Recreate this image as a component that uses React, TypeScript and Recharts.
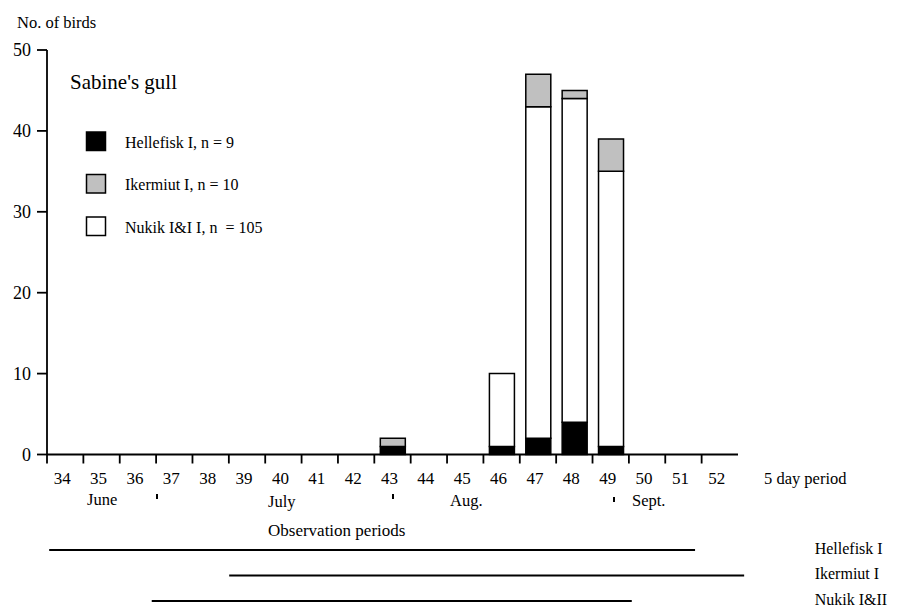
import {
  Bar,
  BarChart,
  Line,
  LineChart,
  XAxis,
  YAxis,
} from 'recharts'

const periods = ['34', '35', '36', '37', '38', '39', '40', '41', '42', '43', '44', '45', '46', '47', '48', '49', '50', '51', '52']
const hellefisk = [0, 0, 0, 0, 0, 0, 0, 0, 0, 1, 0, 0, 1, 2, 4, 1, 0, 0, 0]
const nukik = [0, 0, 0, 0, 0, 0, 0, 0, 0, 0, 0, 0, 9, 41, 40, 34, 0, 0, 0]
const ikermiut = [0, 0, 0, 0, 0, 0, 0, 0, 0, 1, 0, 0, 0, 4, 1, 4, 0, 0, 0]
const yTicks = [0, 10, 20, 30, 40, 50]

const legendItems = [
  { label: 'Hellefisk I, n = 9', fill: '#000000' },
  { label: 'Ikermiut I, n = 10', fill: '#c0c0c0' },
  { label: 'Nukik I&I I, n  = 105', fill: '#ffffff' },
]

// observation periods, in 5 day period units (34 = start of period 34)
const stations = ['Hellefisk I', 'Ikermiut I', 'Nukik I&II']
const obsStart = [34.06, 39.01, 36.88]
const obsEnd = [51.82, 53.17, 50.08]

const FONT = '"Liberation Serif", "Times New Roman", serif'
const PLOT_LEFT = 47
const PLOT_RIGHT = 738
const HALF_BAND = (PLOT_RIGHT - PLOT_LEFT) / periods.length / 2

const data = periods.map((p, i) => ({
  period: p,
  hellefisk: hellefisk[i],
  nukik: nukik[i],
  ikermiut: ikermiut[i],
}))

const rowOf = (i: number) => stations.length - i

function PeriodTick(props: any) {
  const { x, y, payload } = props
  return (
    <g>
      <line x1={x - HALF_BAND} x2={x - HALF_BAND} y1={y} y2={y + 9} stroke='#000' strokeWidth={1.8} />
      <text x={x - 3} y={y + 29} textAnchor='middle' fontSize={17} fontFamily={FONT} fill='#000'>
        {payload.value}
      </text>
    </g>
  )
}

export default function App() {
  return (
    <div
      style={{
        position: 'absolute',
        left: 0,
        top: 0,
        width: 898,
        height: 608,
        overflow: 'hidden',
        background: '#fff',
        fontFamily: FONT,
      }}
    >
      <div style={{ position: 'absolute', left: 0, top: 0 }}>
        <BarChart
          width={898}
          height={608}
          data={data}
          margin={{ top: 50, right: 898 - PLOT_RIGHT, bottom: 123.5, left: 0 }}
          barSize={25}
        >
          <XAxis
            dataKey='period'
            height={30}
            axisLine={{ stroke: '#000', strokeWidth: 1.8 }}
            tickLine={false}
            tickSize={0}
            tickMargin={0}
            interval={0}
            tick={<PeriodTick />}
          />
          <XAxis
            xAxisId='top'
            orientation='top'
            dataKey='period'
            height={0}
            tick={false}
            tickLine={false}
            axisLine={{ stroke: '#000', strokeWidth: 1.8 }}
          />
          <YAxis
            width={PLOT_LEFT}
            domain={[0, 50]}
            ticks={yTicks}
            tickSize={10}
            tickMargin={6}
            axisLine={{ stroke: '#000', strokeWidth: 1.8 }}
            tickLine={{ stroke: '#000', strokeWidth: 1.8 }}
            tick={{ fontSize: 18, fill: '#000', fontFamily: FONT }}
          />
          <YAxis
            yAxisId='r'
            orientation='right'
            width={0}
            domain={[0, 50]}
            tick={false}
            tickLine={false}
            axisLine={{ stroke: '#000', strokeWidth: 1.8 }}
          />
          <Bar dataKey='hellefisk' stackId='a' fill='#000000' stroke='#000' strokeWidth={1.5} isAnimationActive={false} />
          <Bar dataKey='nukik' stackId='a' fill='#ffffff' stroke='#000' strokeWidth={1.5} isAnimationActive={false} />
          <Bar dataKey='ikermiut' stackId='a' fill='#c0c0c0' stroke='#000' strokeWidth={1.5} isAnimationActive={false} />
        </BarChart>
      </div>

      <div style={{ position: 'absolute', left: 0, top: 530 }}>
        <LineChart width={898} height={78} margin={{ top: 7.25, right: 0, bottom: -5.75, left: PLOT_LEFT }}>
          <XAxis type='number' dataKey='x' domain={[34, 55]} hide />
          <YAxis
            orientation='right'
            type='number'
            domain={[0.5, 3.5]}
            ticks={[1, 2, 3]}
            interval={0}
            width={87.3}
            axisLine={false}
            tickLine={false}
            tickSize={0}
            tickMargin={4}
            tickFormatter={(v: number) => stations[stations.length - v]}
            tick={{ fontSize: 16, fill: '#000', fontFamily: FONT, dy: -2 }}
          />
          {stations.map((s, i) => (
            <Line
              key={s}
              data={[
                { x: obsStart[i], y: rowOf(i) },
                { x: obsEnd[i], y: rowOf(i) },
              ]}
              dataKey='y'
              stroke='#000'
              strokeWidth={2}
              dot={false}
              isAnimationActive={false}
            />
          ))}
        </LineChart>
      </div>

      <svg
        width={898}
        height={608}
        style={{ position: 'absolute', left: 0, top: 0, pointerEvents: 'none' }}
        fontFamily={FONT}
      >
        <text x={17} y={22} fontSize={16.5} dominantBaseline='central'>No. of birds</text>
        <text x={70} y={82} fontSize={21} dominantBaseline='central'>Sabine's gull</text>
        {legendItems.map((item, i) => (
          <g key={item.label}>
            <rect
              x={86.5}
              y={132 + i * 42.5}
              width={19}
              height={18.5}
              fill={item.fill}
              stroke='#000'
              strokeWidth={1.5}
            />
            <text
              x={125}
              y={142 + i * 42.5}
              fontSize={16}
              dominantBaseline='central'
              style={{ whiteSpace: 'pre' }}
            >
              {item.label}
            </text>
          </g>
        ))}
        <text x={764} y={478} fontSize={16.5} dominantBaseline='central'>5 day period</text>
        <text x={87} y={499} fontSize={16.5} dominantBaseline='central'>June</text>
        <text x={268} y={501} fontSize={16.5} dominantBaseline='central'>July</text>
        <text x={450} y={500} fontSize={16.5} dominantBaseline='central'>Aug.</text>
        <text x={632} y={500} fontSize={16.5} dominantBaseline='central'>Sept.</text>
        <line x1={157} x2={157} y1={494} y2={499} stroke='#000' strokeWidth={2} />
        <line x1={393} x2={393} y1={494} y2={499} stroke='#000' strokeWidth={2} />
        <line x1={614} x2={614} y1={497} y2={502} stroke='#000' strokeWidth={2} />
        <text x={268} y={530} fontSize={17} dominantBaseline='central'>Observation periods</text>
      </svg>
    </div>
  )
}
